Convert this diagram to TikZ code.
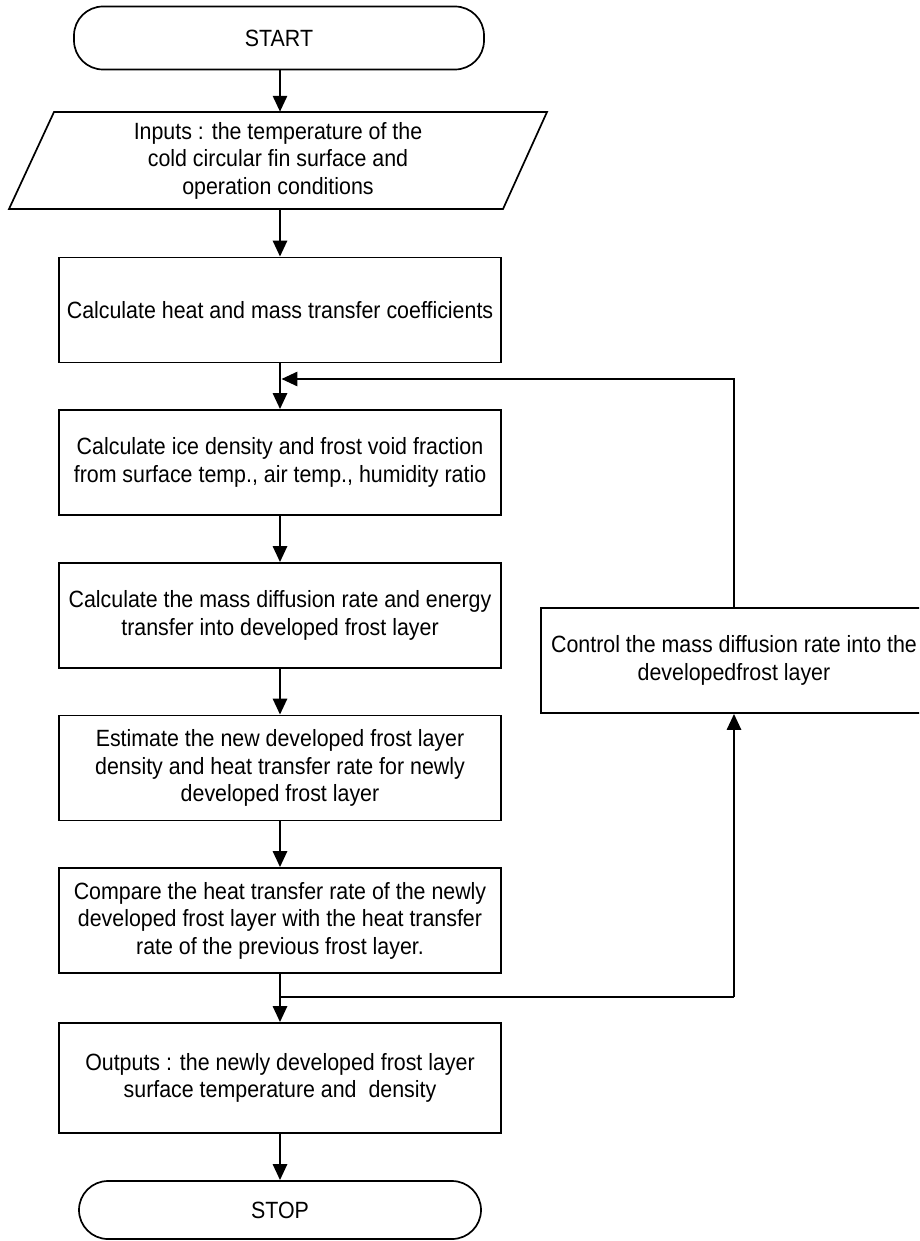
\documentclass[tikz,border=0pt]{standalone}
\usepackage{fontspec}
\setmainfont{Liberation Sans}[FakeStretch=0.91]
\usetikzlibrary{arrows.meta}
\begin{document}
\begin{tikzpicture}[x=1pt,y=-1pt,
  font=\fontsize{23.5}{27.5}\selectfont,
  box/.style={draw, line width=1.7pt, minimum width=442pt, minimum height=105pt, inner sep=0pt, align=center},
  term/.style={draw, line width=1.7pt, rounded corners=29pt, inner sep=0pt},
  conn/.style={line width=2.8pt, -{Triangle[length=16pt,width=14pt]}},
  wire/.style={line width=2.8pt}]
\useasboundingbox (0,0) rectangle (919,1241);
\clip (0,0) rectangle (919,1241);
\fill[white] (0,0) rectangle (919,1241);
% terminals and boxes
\node[term, minimum width=410pt, minimum height=63pt] (start) at (279,38) {START};
\node[inner sep=0pt, minimum width=400pt, minimum height=97pt, align=center] (in) at (278,160.5)
  {Inputs : the temperature of the\\cold circular fin surface and\\operation conditions};
\draw[line width=1.7pt] (54,112) -- (547,112) -- (503,209) -- (9,209) -- cycle;
\node[box] (b1) at (280,310) {Calculate heat and mass transfer coefficients};
\node[box] (b2) at (280,462.5) {Calculate ice density and frost void fraction\\from surface temp., air temp., humidity ratio};
\node[box] (b3) at (280,615.5) {Calculate the mass diffusion rate and energy\\transfer into developed frost layer};
\node[box] (b4) at (280,768) {Estimate the new developed frost layer\\density and heat transfer rate for newly\\developed frost layer};
\node[box] (b5) at (280,920.5) {Compare the heat transfer rate of the newly\\developed frost layer with the heat transfer\\rate of the previous frost layer.};
\node[box, minimum height=110pt] (b6) at (280,1078) {Outputs : the newly developed frost layer\\surface temperature and\ \ density};
\node[term, minimum width=402pt, minimum height=58pt] (stop) at (280,1210) {STOP};
\node[box, minimum width=386pt] (ctrl) at (734,660.5) {Control the mass diffusion rate into the\\developedfrost layer};
% junctions
\coordinate (j1) at (280,379);
\coordinate (c1) at (734,379);
\coordinate (j2) at (280,997);
\coordinate (c2) at (734,997);
% connectors
\draw[conn] (start.south -| b1.north) -- (in.north -| b1.north);
\draw[conn] (in.south -| b1.north) -- (b1.north);
\draw[conn] (b1.south) -- (b2.north);
\draw[conn] (b2.south) -- (b3.north);
\draw[conn] (b3.south) -- (b4.north);
\draw[conn] (b4.south) -- (b5.north);
\draw[conn] (b5.south) -- (b6.north);
\draw[conn] (b6.south) -- (b6.south |- stop.north);
\draw[conn, shorten >=1.4pt] (ctrl.north) -- (c1) -- (j1);
\draw[wire] (j2) -- (c2);
\draw[conn] (c2) -- (ctrl.south);
\end{tikzpicture}
\end{document}
